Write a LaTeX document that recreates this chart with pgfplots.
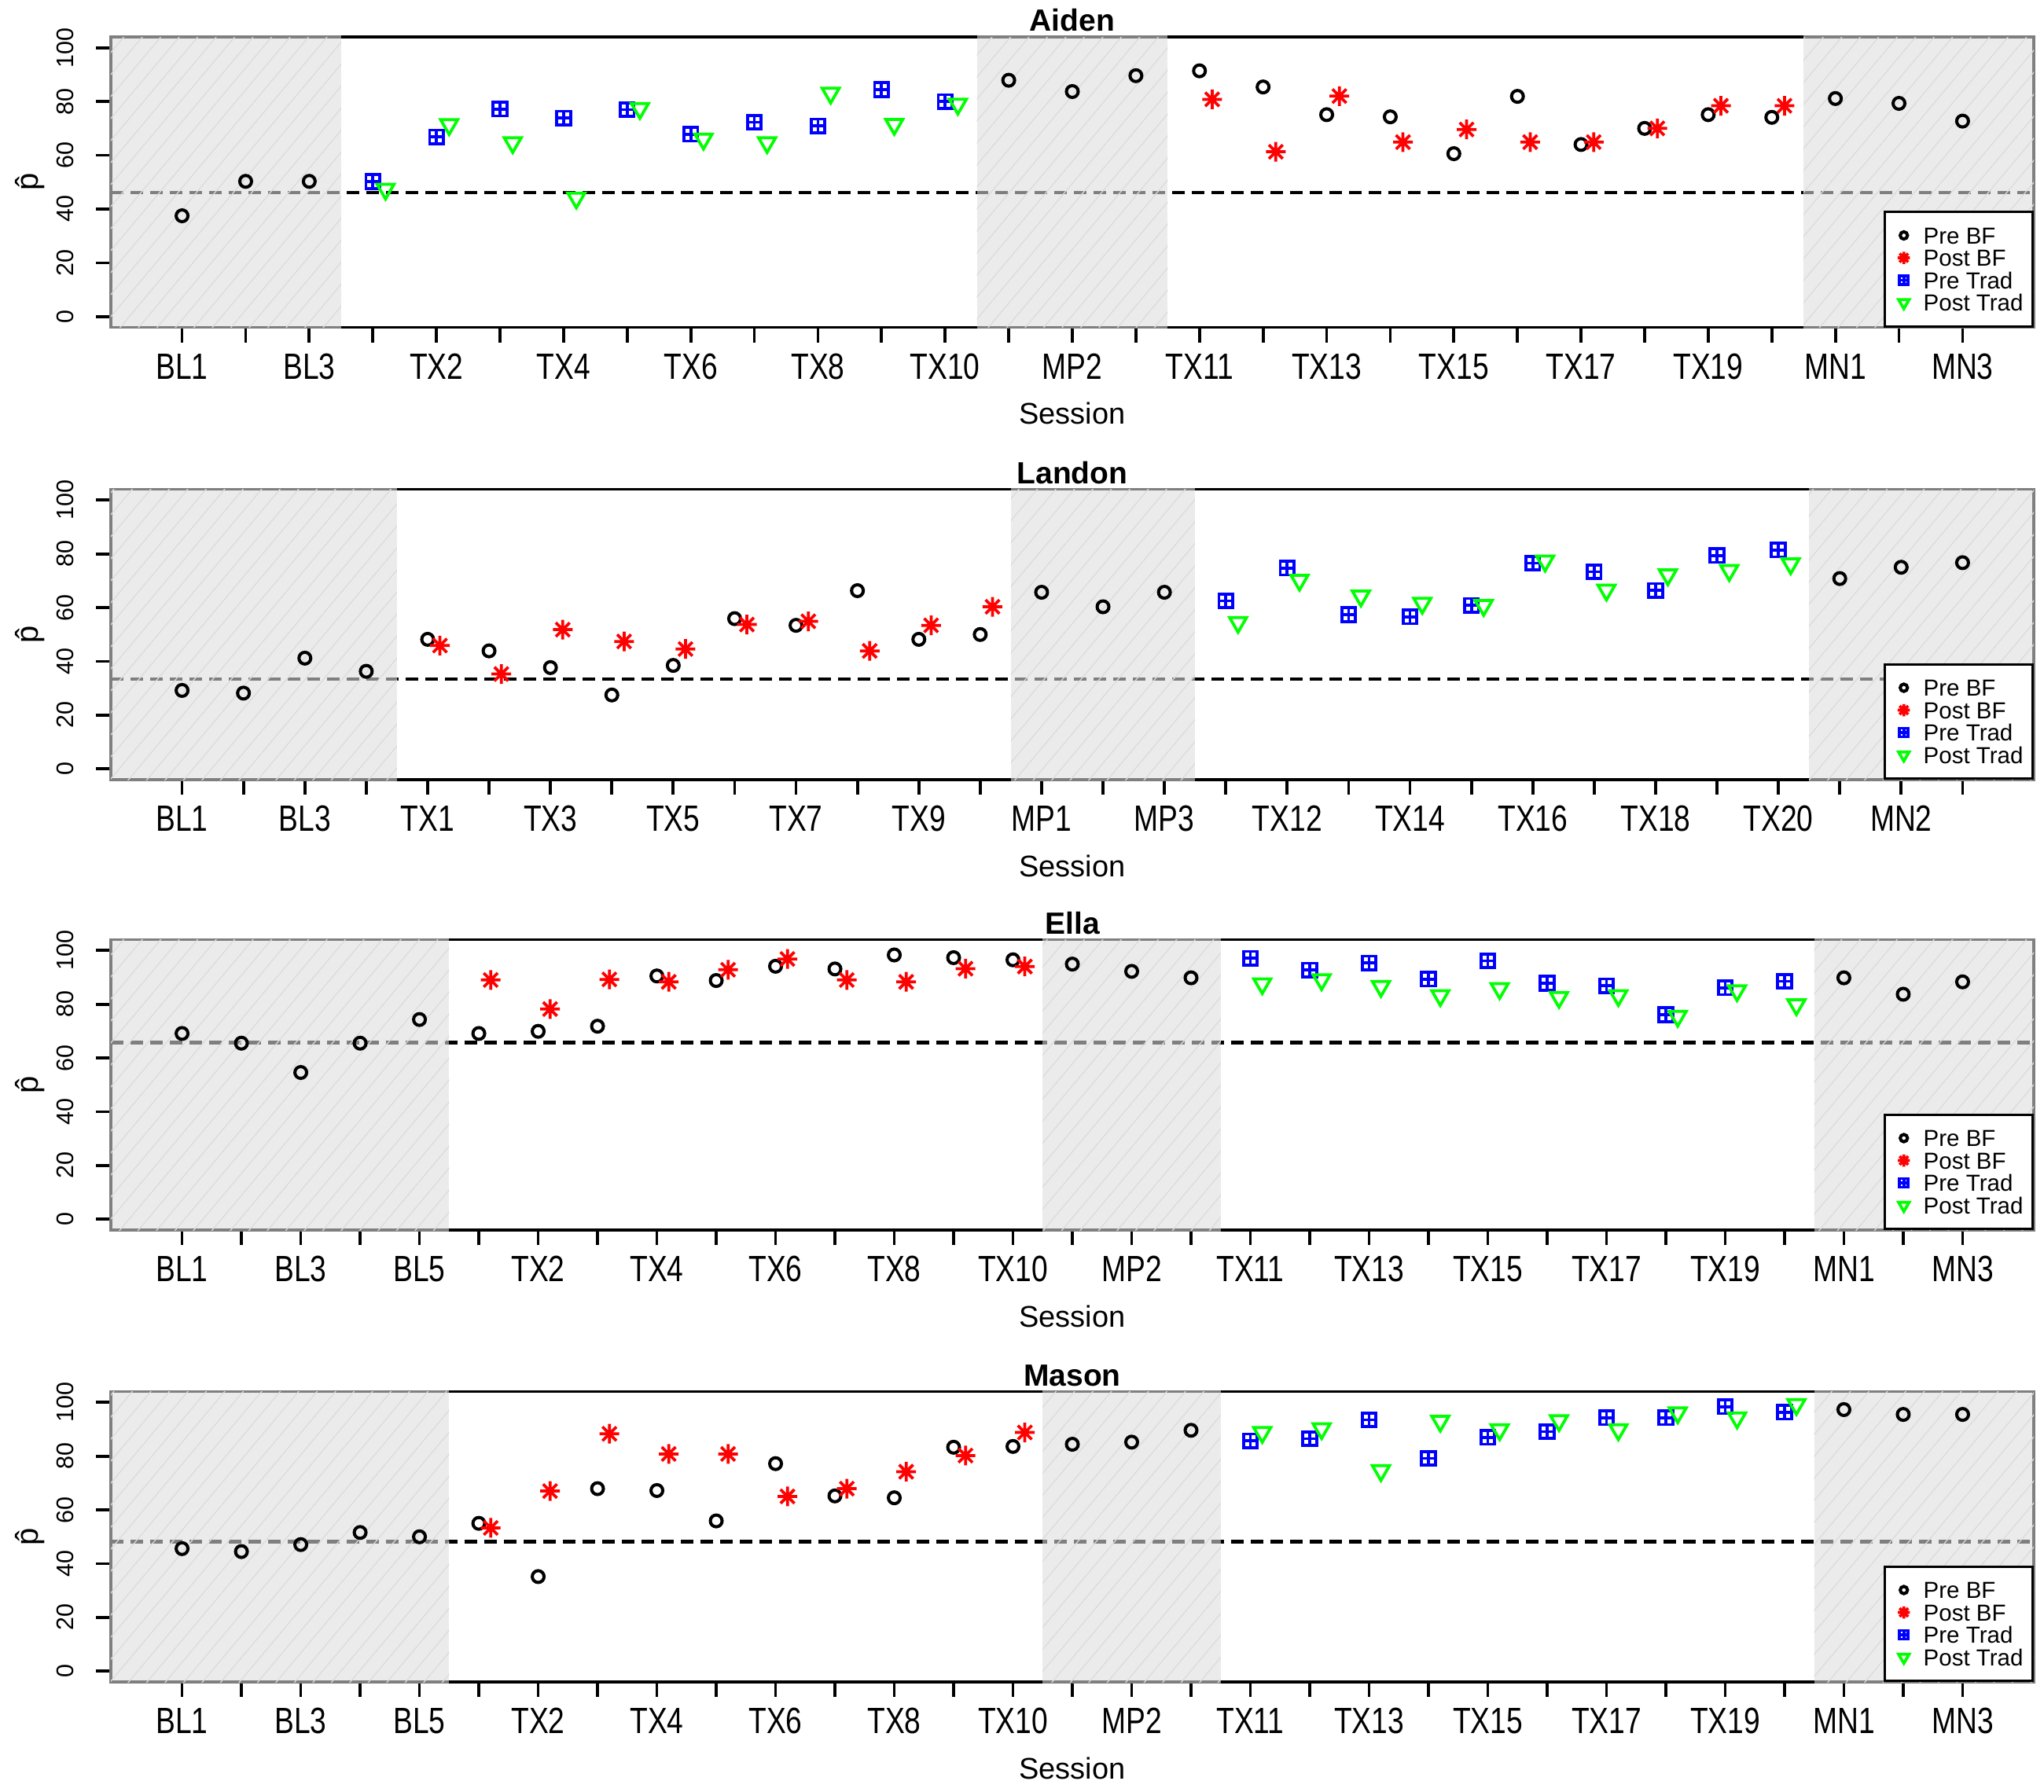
\documentclass[border=0pt]{standalone}
\usepackage{fontspec}
\setmainfont{Liberation Sans}
\newfontfamily\condsans{Liberation Sans}[FakeStretch=0.8]
\usepackage{pgfplots}
\pgfplotsset{compat=1.18}
\usetikzlibrary{patterns.meta}

\pgfdeclareplotmark{rstar}{%
  \pgfpathmoveto{\pgfqpoint{-\pgfplotmarksize}{0pt}}\pgfpathlineto{\pgfqpoint{\pgfplotmarksize}{0pt}}%
  \pgfpathmoveto{\pgfqpoint{0pt}{-\pgfplotmarksize}}\pgfpathlineto{\pgfqpoint{0pt}{\pgfplotmarksize}}%
  \pgfpathmoveto{\pgfqpoint{-0.7071\pgfplotmarksize}{-0.7071\pgfplotmarksize}}\pgfpathlineto{\pgfqpoint{0.7071\pgfplotmarksize}{0.7071\pgfplotmarksize}}%
  \pgfpathmoveto{\pgfqpoint{-0.7071\pgfplotmarksize}{0.7071\pgfplotmarksize}}\pgfpathlineto{\pgfqpoint{0.7071\pgfplotmarksize}{-0.7071\pgfplotmarksize}}%
  \pgfusepathqstroke}
\pgfdeclareplotmark{sqplus}{%
  \pgfpathrectangle{\pgfqpoint{-\pgfplotmarksize}{-\pgfplotmarksize}}{\pgfqpoint{2\pgfplotmarksize}{2\pgfplotmarksize}}%
  \pgfpathmoveto{\pgfqpoint{-\pgfplotmarksize}{0pt}}\pgfpathlineto{\pgfqpoint{\pgfplotmarksize}{0pt}}%
  \pgfpathmoveto{\pgfqpoint{0pt}{-\pgfplotmarksize}}\pgfpathlineto{\pgfqpoint{0pt}{\pgfplotmarksize}}%
  \pgfusepathqstroke}
\pgfdeclareplotmark{dtri}{%
  \pgfpathmoveto{\pgfqpoint{0pt}{-\pgfplotmarksize}}%
  \pgfpathlineto{\pgfqpoint{0.866\pgfplotmarksize}{0.5\pgfplotmarksize}}%
  \pgfpathlineto{\pgfqpoint{-0.866\pgfplotmarksize}{0.5\pgfplotmarksize}}%
  \pgfpathclose\pgfusepathqstroke}

\definecolor{shadegray}{gray}{0.862}

\pgfplotsset{
  mylegend/.style={legend image code/.code={%
      \path (-2pt,-1.5pt) (2pt,1.5pt);
      \draw[##1, every mark/.append style={scale=0.62}] plot coordinates {(0pt,0pt)};}},
  panel/.style={
    scale only axis, width=489.2pt, height=73.9pt,
    anchor=north west,
    ymin=-4, ymax=104, ytick={0,20,40,60,80,100},
    clip=false,
    axis line style={line width=0.75pt},
    tick style={black, line width=0.75pt},
    tick align=outside, major tick length=3.8pt,
    xtick pos=bottom, ytick pos=left,
    /pgf/number format/assume math mode=true,
    xticklabel style={font=\condsans\fontsize{9.3}{10}\selectfont, anchor=base},
    xticklabel shift=9.3pt,
    yticklabel style={font=\fontsize{6.1}{7}\selectfont, rotate=90, anchor=base},
    yticklabel shift=5.6pt,
    every axis title/.style={at={(0.5,1)}, anchor=base, yshift=1.5pt, font=\bfseries\fontsize{7.8}{9}\selectfont},
    xlabel={Session},
    xlabel style={at={(0.5,0)}, anchor=base, yshift=-24.6pt, font=\fontsize{7.6}{9}\selectfont},
    ylabel={\^{p}},
    ylabel style={at={(-0.042,0.5)}, anchor=center, font=\fontsize{8}{9}\selectfont},
    legend cell align=left,
    legend style={at={(1,0)}, anchor=south east, draw=black, line width=0.6pt, fill=white,
      font=\fontsize{5.9}{6}\selectfont, inner xsep=2.4pt, inner ysep=3.9pt, row sep=1.5pt, column sep=2.6pt,
      nodes={inner sep=0pt, text height=4.2pt, text depth=0pt}},
  },
  shadeR/.style={forget plot, draw=none, fill=shadegray, fill opacity=0.58, mark=none},
  texR/.style={forget plot, draw=none, pattern={Lines[angle=50, distance=3.6pt, line width=0.25pt]}, pattern color=black!14, mark=none},
  dline/.style={forget plot, black, line width=0.85pt, dash pattern=on 3.2pt off 1.8pt, mark=none},
  preBF/.style={only marks, mark=o, mark size=1.5pt, black, line width=0.8pt, mylegend},
  postBF/.style={only marks, mark=rstar, mark size=2.5pt, red, line width=0.75pt, mylegend},
  preTrad/.style={only marks, mark=sqplus, mark size=1.75pt, blue, line width=0.75pt, mylegend},
  postTrad/.style={only marks, mark=dtri, mark size=2.5pt, green, line width=0.75pt, mylegend},
}

\begin{document}
\begin{tikzpicture}
\useasboundingbox (0,0) rectangle (520pt,-455.8pt);

% ---------------- Aiden ----------------
\begin{axis}[panel, at={(28.2pt,-9.4pt)}, xmin=-0.12, xmax=30.12,
  xtick={1,...,29},
  xticklabels={BL1,,BL3,,TX2,,TX4,,TX6,,TX8,,TX10,,MP2,,TX11,,TX13,,TX15,,TX17,,TX19,,MN1,,MN3},
  title={Aiden}]
\addplot[dline] coordinates {(-0.12,46.2) (30.12,46.2)};
\addplot[shadeR] coordinates {(-0.15,-4.55) (3.5,-4.55) (3.5,104.55) (-0.15,104.55)} --cycle;
\addplot[shadeR] coordinates {(13.5,-4.55) (16.5,-4.55) (16.5,104.55) (13.5,104.55)} --cycle;
\addplot[shadeR] coordinates {(26.5,-4.55) (30.15,-4.55) (30.15,104.55) (26.5,104.55)} --cycle;
\addplot[texR] coordinates {(-0.12,-4) (3.5,-4) (3.5,104) (-0.12,104)} --cycle;
\addplot[texR] coordinates {(13.5,-4) (16.5,-4) (16.5,104) (13.5,104)} --cycle;
\addplot[texR] coordinates {(26.5,-4) (30.12,-4) (30.12,104) (26.5,104)} --cycle;
\addplot[preBF] coordinates {(1,37.5) (2,50.3) (3,50.3) (14,87.9) (15,83.7) (16,89.6)
  (17,91.4) (18,85.4) (19,75.1) (20,74.3) (21,60.6) (22,81.9) (23,64.0) (24,70.0) (25,75.1) (26,74.1)
  (27,81.1) (28,79.3) (29,72.7)};
\addplot[postBF] coordinates {(17.2,80.8) (18.2,61.3) (19.2,82.0) (20.2,64.9) (21.2,69.6)
  (22.2,64.9) (23.2,64.9) (24.2,70.0) (25.2,78.4) (26.2,78.4)};
\addplot[preTrad] coordinates {(4,50.2) (5,66.8) (6,77.2) (7,73.8) (8,77.0) (9,67.8)
  (10,72.3) (11,70.9) (12,84.4) (13,80.0)};
\addplot[postTrad] coordinates {(4.2,47.4) (5.2,71.4) (6.2,64.7) (7.2,44.1) (8.2,77.4)
  (9.2,66.0) (10.2,64.7) (11.2,83.1) (12.2,71.5) (13.2,79.0)};
\legend{Pre BF, Post BF, Pre Trad, Post Trad}
\end{axis}

% ---------------- Landon ----------------
\begin{axis}[panel, at={(28.2pt,-124.5pt)}, xmin=-0.16, xmax=31.16,
  xtick={1,...,30},
  xticklabels={BL1,,BL3,,TX1,,TX3,,TX5,,TX7,,TX9,,MP1,,MP3,,TX12,,TX14,,TX16,,TX18,,TX20,,MN2,},
  title={Landon}]
\addplot[dline] coordinates {(-0.16,33.5) (31.16,33.5)};
\addplot[shadeR] coordinates {(-0.19,-4.55) (4.5,-4.55) (4.5,104.55) (-0.19,104.55)} --cycle;
\addplot[shadeR] coordinates {(14.5,-4.55) (17.5,-4.55) (17.5,104.55) (14.5,104.55)} --cycle;
\addplot[shadeR] coordinates {(27.5,-4.55) (31.19,-4.55) (31.19,104.55) (27.5,104.55)} --cycle;
\addplot[texR] coordinates {(-0.16,-4) (4.5,-4) (4.5,104) (-0.16,104)} --cycle;
\addplot[texR] coordinates {(14.5,-4) (17.5,-4) (17.5,104) (14.5,104)} --cycle;
\addplot[texR] coordinates {(27.5,-4) (31.16,-4) (31.16,104) (27.5,104)} --cycle;
\addplot[preBF] coordinates {(1,29.2) (2,28.2) (3,41.2) (4,36.3) (5,48.2) (6,43.9) (7,37.7)
  (8,27.5) (9,38.5) (10,55.9) (11,53.4) (12,66.3) (13,48.2) (14,50.0) (15,65.7) (16,60.3) (17,65.7)
  (28,70.8) (29,75.0) (30,76.7)};
\addplot[postBF] coordinates {(5.2,45.9) (6.2,35.3) (7.2,51.8) (8.2,47.4) (9.2,44.6)
  (10.2,53.7) (11.2,54.9) (12.2,43.9) (13.2,53.4) (14.2,60.3)};
\addplot[preTrad] coordinates {(18,62.5) (19,74.7) (20,57.4) (21,56.6) (22,60.8) (23,76.5)
  (24,73.3) (25,66.4) (26,79.4) (27,81.4)};
\addplot[postTrad] coordinates {(18.2,54.5) (19.2,70.2) (20.2,64.3) (21.2,61.6) (22.2,60.8)
  (23.2,77.3) (24.2,66.5) (25.2,72.2) (26.2,73.8) (27.2,76.3)};
\legend{Pre BF, Post BF, Pre Trad, Post Trad}
\end{axis}

% ---------------- Ella ----------------
\begin{axis}[panel, at={(28.2pt,-239.1pt)}, xmin=-0.2, xmax=32.2,
  xtick={1,...,31},
  xticklabels={BL1,,BL3,,BL5,,TX2,,TX4,,TX6,,TX8,,TX10,,MP2,,TX11,,TX13,,TX15,,TX17,,TX19,,MN1,,MN3},
  title={Ella}]
\addplot[dline] coordinates {(-0.2,65.7) (32.2,65.7)};
\addplot[shadeR] coordinates {(-0.23,-4.55) (5.5,-4.55) (5.5,104.55) (-0.23,104.55)} --cycle;
\addplot[shadeR] coordinates {(15.5,-4.55) (18.5,-4.55) (18.5,104.55) (15.5,104.55)} --cycle;
\addplot[shadeR] coordinates {(28.5,-4.55) (32.23,-4.55) (32.23,104.55) (28.5,104.55)} --cycle;
\addplot[texR] coordinates {(-0.2,-4) (5.5,-4) (5.5,104) (-0.2,104)} --cycle;
\addplot[texR] coordinates {(15.5,-4) (18.5,-4) (18.5,104) (15.5,104)} --cycle;
\addplot[texR] coordinates {(28.5,-4) (32.2,-4) (32.2,104) (28.5,104)} --cycle;
\addplot[preBF] coordinates {(1,69.1) (2,65.5) (3,54.6) (4,65.5) (5,74.3) (6,69.1) (7,69.9)
  (8,71.8) (9,90.5) (10,88.8) (11,94.1) (12,93.1) (13,98.3) (14,97.3) (15,96.5) (16,94.9)
  (17,92.2) (18,89.8) (29,89.8) (30,83.7) (31,88.3)};
\addplot[postBF] coordinates {(6.2,89.0) (7.2,78.2) (8.2,89.2) (9.2,88.3) (10.2,92.8)
  (11.2,96.8) (12.2,89.0) (13.2,88.3) (14.2,93.2) (15.2,94.0)};
\addplot[preTrad] coordinates {(19,97.1) (20,92.7) (21,95.3) (22,89.3) (23,96.1) (24,87.8)
  (25,86.8) (26,76.1) (27,86.1) (28,88.5)};
\addplot[postTrad] coordinates {(19.2,87.6) (20.2,89.1) (21.2,86.6) (22.2,83.2) (23.2,85.8)
  (24.2,82.5) (25.2,83.2) (26.2,75.5) (27.2,85.0) (28.2,79.8)};
\legend{Pre BF, Post BF, Pre Trad, Post Trad}
\end{axis}

% ---------------- Mason ----------------
\begin{axis}[panel, at={(28.2pt,-354.1pt)}, xmin=-0.2, xmax=32.2,
  xtick={1,...,31},
  xticklabels={BL1,,BL3,,BL5,,TX2,,TX4,,TX6,,TX8,,TX10,,MP2,,TX11,,TX13,,TX15,,TX17,,TX19,,MN1,,MN3},
  title={Mason}]
\addplot[dline] coordinates {(-0.2,48.2) (32.2,48.2)};
\addplot[shadeR] coordinates {(-0.23,-4.55) (5.5,-4.55) (5.5,104.55) (-0.23,104.55)} --cycle;
\addplot[shadeR] coordinates {(15.5,-4.55) (18.5,-4.55) (18.5,104.55) (15.5,104.55)} --cycle;
\addplot[shadeR] coordinates {(28.5,-4.55) (32.23,-4.55) (32.23,104.55) (28.5,104.55)} --cycle;
\addplot[texR] coordinates {(-0.2,-4) (5.5,-4) (5.5,104) (-0.2,104)} --cycle;
\addplot[texR] coordinates {(15.5,-4) (18.5,-4) (18.5,104) (15.5,104)} --cycle;
\addplot[texR] coordinates {(28.5,-4) (32.2,-4) (32.2,104) (28.5,104)} --cycle;
\addplot[preBF] coordinates {(1,45.6) (2,44.5) (3,47.1) (4,51.6) (5,50.0) (6,55.0) (7,35.2)
  (8,67.9) (9,67.2) (10,55.9) (11,77.2) (12,65.2) (13,64.5) (14,83.3) (15,83.6) (16,84.4)
  (17,85.2) (18,89.6) (29,97.3) (30,95.5) (31,95.5)};
\addplot[postBF] coordinates {(6.2,53.3) (7.2,67.0) (8.2,88.3) (9.2,80.8) (10.2,80.8)
  (11.2,65.0) (12.2,67.9) (13.2,74.2) (14.2,80.2) (15.2,88.8)};
\addplot[preTrad] coordinates {(19,85.7) (20,86.5) (21,93.5) (22,79.2) (23,87.0) (24,89.1)
  (25,94.3) (26,94.3) (27,98.4) (28,96.3)};
\addplot[postTrad] coordinates {(19.2,88.8) (20.2,90.2) (21.2,74.6) (22.2,93.0) (23.2,89.8)
  (24.2,93.2) (25.2,89.8) (26.2,96.1) (27.2,94.2) (28.2,99.2)};
\legend{Pre BF, Post BF, Pre Trad, Post Trad}
\end{axis}
\end{tikzpicture}
\end{document}
